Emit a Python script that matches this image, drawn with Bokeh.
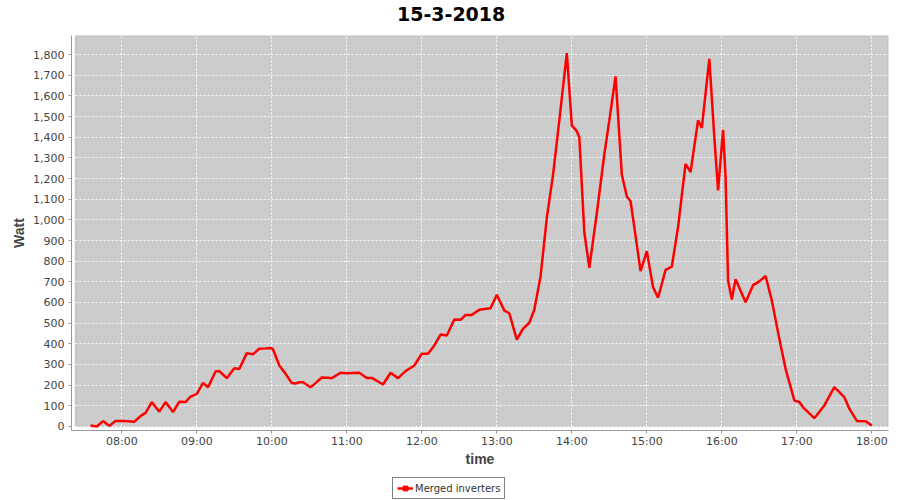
import pandas as pd
from bokeh.plotting import figure
from bokeh.layouts import column
from bokeh.models import (Range1d, FixedTicker, SingleIntervalTicker, NumeralTickFormatter,
                          DatetimeTickFormatter, BoxAnnotation, Legend, LegendItem, Label)
from bokeh.embed import file_html
from bokeh.resources import INLINE

DAY = "2018-03-15"
TITLE = "15-3-2018"
SERIES = "Merged inverters"

times = ["07:35", "07:40", "07:45", "07:50", "07:55", "08:00", "08:05", "08:10", "08:15", "08:19",
         "08:24", "08:30", "08:35", "08:41", "08:46", "08:51", "08:55", "09:00", "09:05", "09:09",
         "09:15", "09:18", "09:24", "09:30", "09:34", "09:40", "09:45", "09:50", "09:55", "09:59",
         "10:01", "10:06", "10:11", "10:16", "10:19", "10:22", "10:25", "10:31", "10:35", "10:40",
         "10:45", "10:48", "10:55", "11:00", "11:05", "11:10", "11:16", "11:20", "11:29", "11:35",
         "11:41", "11:47", "11:54", "12:00", "12:05", "12:10", "12:15", "12:20", "12:26", "12:31",
         "12:35", "12:40", "12:46", "12:50", "12:55", "13:00", "13:06", "13:10", "13:16", "13:21",
         "13:26", "13:30", "13:35", "13:40", "13:45", "13:50", "13:56", "14:00", "14:04", "14:06",
         "14:10", "14:14", "14:20", "14:26", "14:30", "14:35", "14:40", "14:44", "14:47", "14:50",
         "14:55", "15:00", "15:05", "15:09", "15:15", "15:20", "15:25", "15:31", "15:35", "15:41",
         "15:44", "15:50", "15:54", "15:57", "16:01", "16:03", "16:05", "16:08", "16:11", "16:19",
         "16:25", "16:30", "16:35", "16:40", "16:46", "16:51", "16:58", "17:02", "17:05", "17:14",
         "17:22", "17:30", "17:38", "17:42", "17:48", "17:55", "18:00"]
watts = [5, 0, 26, 3, 27, 27, 25, 23, 50, 66,
         118, 72, 118, 70, 120, 118, 145, 158, 211, 190,
         266, 268, 234, 282, 278, 355, 350, 376, 378, 380,
         374, 295, 255, 210, 208, 214, 214, 190, 210, 237,
         236, 234, 260, 258, 259, 260, 235, 235, 203, 260,
         234, 268, 295, 352, 352, 392, 445, 440, 518, 516,
         540, 540, 565, 568, 572, 637, 561, 548, 420, 473,
         502, 565, 726, 1010, 1219, 1481, 1807, 1457, 1429, 1400,
         940, 768, 1032, 1316, 1481, 1694, 1219, 1113, 1090, 965,
         752, 848, 674, 623, 758, 774, 965, 1271, 1231, 1481,
         1445, 1779, 1400, 1142, 1436, 1206, 706, 615, 712, 601,
         684, 702, 728, 610, 424, 279, 126, 118, 93, 40,
         102, 190, 142, 86, 27, 25, 5]
hour_ticks = ["08:00", "09:00", "10:00", "11:00", "12:00", "13:00", "14:00", "15:00",
              "16:00", "17:00", "18:00"]

def ts(hm):
    return pd.Timestamp(f"{DAY} {hm}")

x = [ts(t) for t in times]

x_start = pd.Timestamp(f"{DAY} 07:19:46")
x_plot_start = pd.Timestamp(f"{DAY} 07:23:00")
x_end = pd.Timestamp(f"{DAY} 18:13:20")
y_start, y_end = -19.4, 1892

# ---- title strip ----
hd = figure(width=900, height=35, output_backend="svg", toolbar_location=None, title=None,
            x_range=Range1d(0, 1), y_range=Range1d(0, 1),
            min_border=0, outline_line_color=None)
hd.axis.visible = False
hd.grid.visible = False
hd.add_layout(Label(x=379.6, y=21.5, x_units="screen", y_units="screen", text=TITLE,
                    text_align="center", text_baseline="alphabetic",
                    text_font="DejaVu Sans", text_font_style="bold",
                    text_font_size="19px", text_color="black"))

# ---- main chart ----
p = figure(width=900, height=435, output_backend="svg", toolbar_location=None, title=None,
           x_axis_type="datetime",
           x_range=Range1d(x_start, x_end), y_range=Range1d(y_start, y_end),
           min_border_left=71, min_border_right=12, min_border_top=0, min_border_bottom=40)

p.background_fill_color = "white"
p.border_fill_color = "white"
p.outline_line_color = None

plot_bg = BoxAnnotation(left=x_plot_start, bottom=0, right=x_end, top=y_end,
                        fill_color="#cccccc", fill_alpha=1.0,
                        line_color="#7a7a7a", line_width=1.5, level="underlay")
p.center = [plot_bg] + list(p.center)

tick_ms = [ts(h).value // 10**6 for h in hour_ticks]
p.xaxis.ticker = FixedTicker(ticks=tick_ms)
fmt = "%H:%M"
p.xaxis.formatter = DatetimeTickFormatter(hours=fmt, hourmin=fmt, minutes=fmt, minsec=fmt,
                                          days=fmt, seconds=fmt)
p.yaxis.ticker = SingleIntervalTicker(interval=100)
p.yaxis.formatter = NumeralTickFormatter(format="0,0")

for ax in (p.xaxis[0], p.yaxis[0]):
    ax.axis_line_color = "#999999"
    ax.major_tick_line_color = "#999999"
    ax.major_tick_out = 3
    ax.major_tick_in = 0
    ax.minor_tick_out = 0
    ax.minor_tick_in = 0
    ax.major_label_text_font = "DejaVu Sans"
    ax.major_label_text_font_size = "11px"
    ax.major_label_text_color = "#444444"
    ax.axis_label_text_font = "Liberation Sans"
    ax.axis_label_text_font_style = "bold"
    ax.axis_label_text_font_size = "14px"
    ax.axis_label_text_color = "#444444"

p.xaxis.axis_label = "time"
p.yaxis.axis_label = "Watt"
p.yaxis.major_label_standoff = 4
p.xaxis.major_label_standoff = 1
p.yaxis.axis_label_standoff = 3
p.xaxis.axis_label_standoff = 0

for g in (p.xgrid[0], p.ygrid[0]):
    g.grid_line_color = "white"
    g.grid_line_dash = "2 2"
    g.grid_line_width = 1
    g.grid_line_alpha = 0.9

r = p.line(x, watts, line_color="#ff0000", line_width=2.5)

# ---- legend strip (swatch renderers hold no visible data) ----
nan = float("nan")
lg = figure(width=900, height=30, output_backend="svg", toolbar_location=None, title=None,
            x_range=Range1d(0, 1), y_range=Range1d(0, 1),
            min_border=0, outline_line_color=None)
lg.axis.visible = False
lg.grid.visible = False
lr = lg.line(x=[nan, nan], y=[nan, nan], line_color="#ff0000", line_width=2.5)
ls = lg.scatter(x=[nan], y=[nan], marker="square", size=4,
                fill_color="#ff0000", line_color="#ff0000")
legend = Legend(items=[LegendItem(label=SERIES, renderers=[lr, ls])],
                location=(321, 1), orientation="horizontal",
                border_line_color="black", border_line_width=1,
                label_text_font="DejaVu Sans", label_text_font_size="10px",
                label_text_color="#333333",
                glyph_width=16, glyph_height=12, label_standoff=2,
                padding=4, margin=0, spacing=0,
                background_fill_color="white")
lg.add_layout(legend, "center")

layout = column(hd, p, lg, spacing=0)
open("out.html", "w").write(file_html(layout, INLINE))
